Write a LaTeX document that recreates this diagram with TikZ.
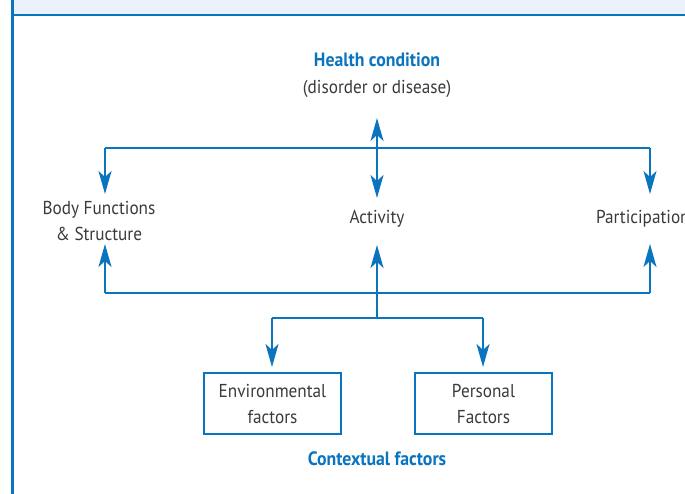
\documentclass[tikz,border=0pt]{standalone}
\usepackage{fontspec}
\setmainfont{PT Sans}[FakeStretch=0.92]
\usetikzlibrary{arrows.meta}
\definecolor{icfblue}{HTML}{0A74BF}
\definecolor{txtgray}{HTML}{3A3A3A}
\definecolor{bandfill}{HTML}{EBF1FA}
\tikzset{
  lbl/.style={inner sep=0pt, outer sep=0pt, text=txtgray, font=\fontsize{18.7}{26}\selectfont, align=center, text height=12pt, text depth=4pt},
  ttl/.style={lbl, text=icfblue, font=\fontsize{19.3}{26}\selectfont\bfseries},
  fbox/.style={lbl, draw=icfblue, line width=2.2pt, minimum width=137pt, minimum height=61pt, text height=, text depth=},
  conn/.style={draw=icfblue, line width=1.6pt},
  tip/.tip={Stealth[length=23pt,width=13pt,inset=6pt]},
  arr/.style={conn, -tip},
  dbl/.style={conn, tip-tip},
}
\begin{document}
\begin{tikzpicture}[x=1pt,y=-1pt]
\useasboundingbox (0,0) rectangle (685,494);
% frame
\fill[bandfill] (13,0) rectangle (685,15);
\draw[icfblue, line width=2pt] (13,15) -- (685,15);
\draw[icfblue, line width=2.6pt] (12.5,0) -- (12.5,494);
% nodes
\node[ttl] (hct) at (377,62.5) {Health condition};
\node[lbl] (hcs) at (377,89.5) {(disorder or disease)};
\node[lbl] (act) at (377,219.5) {Activity};
\node[lbl, text height=, text depth=] (body) at (99,221) {Body Functions\\\& Structure};
\node[lbl, anchor=west] (part) at (596,219.5) {Participation};
\node[fbox] (env) at (272.5,403.5) {Environmental\\factors};
\node[fbox] (pers) at (483.5,403.5) {Personal\\Factors};
\node[ttl] (ctx) at (377,461.5) {Contextual factors};
% junction coordinates
\coordinate (tl) at (105,148);
\coordinate (tr) at (650,148);
\coordinate (bl) at (105,293);
\coordinate (br) at (650,293);
\coordinate (mid) at (377,318);
\coordinate (el) at (272,318);
\coordinate (er) at (483,318);
\coordinate (bodyin) at (105,194);
\coordinate (bodyup) at (105,244);
\coordinate (partin) at (650,194);
\coordinate (partup) at (650,244);
% connectors
\draw[dbl] ([yshift=-20.5pt]hcs.south) -- ([yshift=13.5pt]act.north);
\draw[conn] (tl) -- (tr);
\draw[arr] (tl) -- (bodyin);
\draw[arr] (tr) -- (partin);
\draw[conn] (bl) -- (br);
\draw[arr] (bl) -- (bodyup);
\draw[arr] (br) -- (partup);
\draw[arr, shorten >=17.5pt] (mid) -- (act.south);
\draw[conn] (el) -- (er);
\draw[arr, shorten >=6pt] (el) -- (el |- env.north);
\draw[arr, shorten >=6pt] (er) -- (er |- pers.north);
\end{tikzpicture}
\end{document}
